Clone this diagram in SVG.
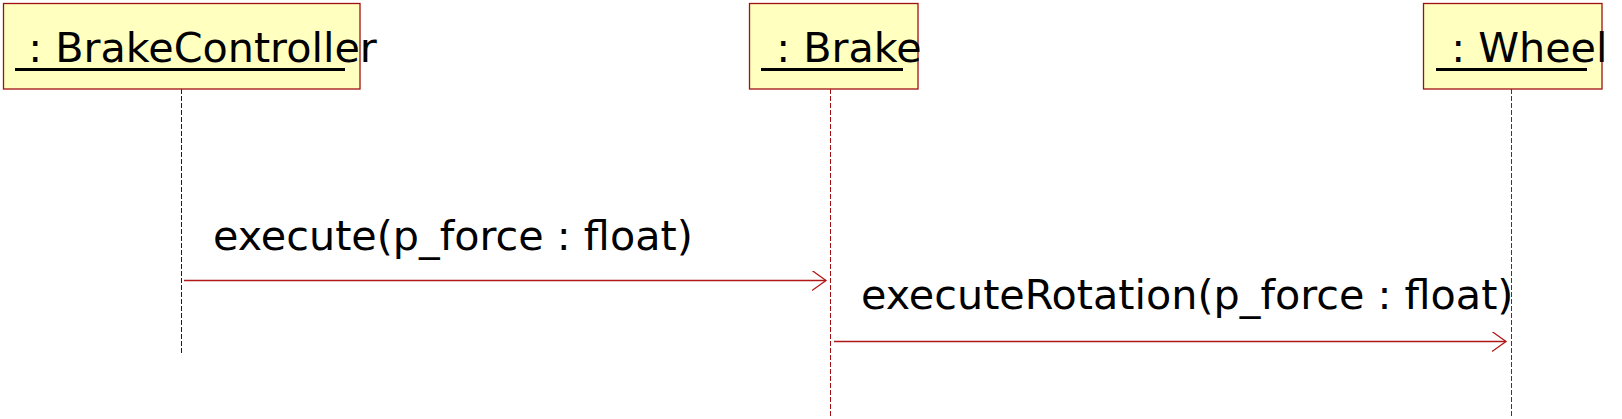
<svg xmlns="http://www.w3.org/2000/svg" width="1622" height="419" viewBox="0 0 1622 419">
<style>
.box{fill:#FFFFC0;stroke:#A01010;stroke-width:1.3}
.t{font-family:"DejaVu Sans",sans-serif;font-size:41.3px;fill:#000}
.ul{stroke:#000;stroke-width:3}
.life{stroke:#A01010;stroke-width:1;stroke-dasharray:5 2;fill:none}
.life.dark{stroke:#600000}
.msg{stroke:#B01818;stroke-width:1.3;fill:none}
</style>
<defs>
<marker id="ah" markerWidth="16" markerHeight="22" refX="14" refY="10" orient="auto" markerUnits="userSpaceOnUse">
<path d="M0,0 L14,10 L0,20" fill="none" stroke="#B01818" stroke-width="1.3"/>
</marker>
</defs>
<g id="connectors">
<line class="life dark" x1="181.5" y1="89" x2="181.5" y2="355"/>
<line class="life" x1="830.5" y1="89" x2="830.5" y2="417"/>
<line class="life" x1="1511.5" y1="89" x2="1511.5" y2="417"/>
<line class="msg" x1="184" y1="280.5" x2="826" y2="280.5" marker-end="url(#ah)"/>
<line class="msg" x1="834" y1="341.5" x2="1506" y2="341.5" marker-end="url(#ah)"/>
<text class="t" x="213" y="250">execute(p_force : float)</text>
<text class="t" x="861" y="309">executeRotation(p_force : float)</text>
</g>
<g id="BrakeController">
<rect class="box" x="3.5" y="3.5" width="356.5" height="85.5"/>
<text class="t" x="15" y="62" xml:space="preserve"> : BrakeController</text>
<line class="ul" x1="15" y1="69.5" x2="345" y2="69.5"/>
</g>
<g id="Brake">
<rect class="box" x="749.5" y="3.5" width="168.5" height="85.5"/>
<text class="t" x="763" y="62" xml:space="preserve"> : Brake</text>
<line class="ul" x1="761" y1="69.5" x2="903" y2="69.5"/>
</g>
<g id="Wheel">
<rect class="box" x="1423.5" y="3.5" width="178.5" height="85.5"/>
<text class="t" x="1438" y="62" xml:space="preserve"> : Wheel</text>
<line class="ul" x1="1436" y1="69.5" x2="1587" y2="69.5"/>
</g>
</svg>
